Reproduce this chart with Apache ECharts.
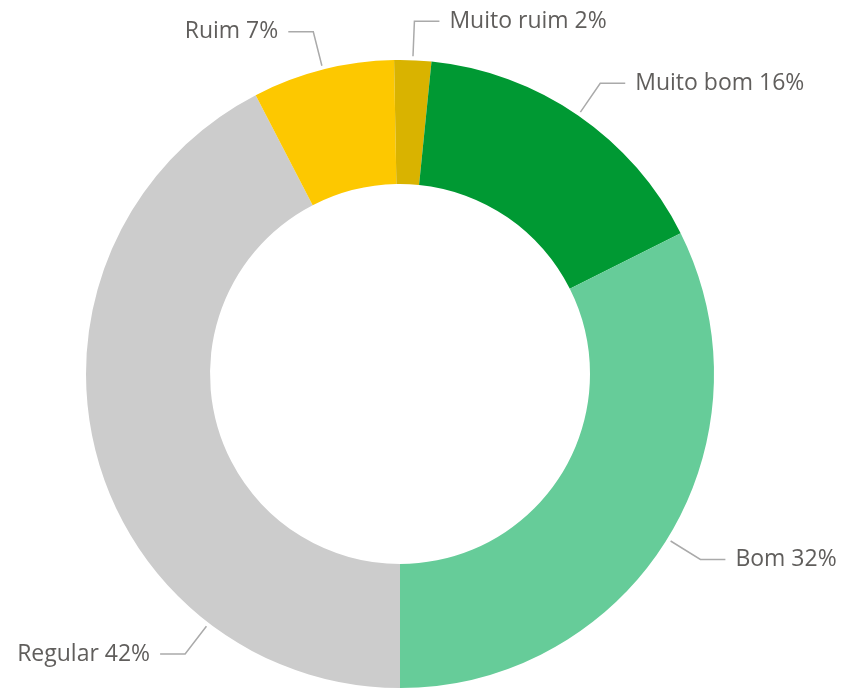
<!DOCTYPE html>
<html>
<head>
<meta charset="utf-8">
<script src="https://cdn.jsdelivr.net/npm/echarts@6/dist/echarts.min.js"></script>
<style>
  html, body { margin: 0; padding: 0; background: #fff; }
  #chart { width: 841px; height: 688px; }
</style>
</head>
<body>
<div id="chart"></div>
<script>
// slices, clockwise from the bottom
var names = ["Regular", "Ruim", "Muito ruim", "Muito bom", "Bom"];
var values = [42.4, 7.3, 1.9, 16.0, 32.4];
var colors = ["#cccccc", "#fdc800", "#d9b300", "#009933", "#66cc99"];

var cx = 400, cy = 374, rIn = 190, rOut = 314;
var total = values.reduce(function (a, b) { return a + b; }, 0);

// angle (deg, clockwise from top) where each label line leaves the ring
var anchorAngles = [];
var acc = 180;
values.forEach(function (v) {
  var span = v / total * 360;
  anchorAngles.push(acc + span / 2);
  acc += span;
});
anchorAngles[0] = 217.5; // Regular label sits low on the left

var myChart = echarts.init(document.getElementById("chart"));
myChart.setOption({
  animation: false,
  textStyle: { fontFamily: "Open Sans" },
  series: [
    {
      type: "pie",
      center: [cx, cy],
      radius: [rIn, rOut],
      startAngle: 270,
      clockwise: true,
      percentPrecision: 2,
      data: names.map(function (n, i) {
        return { name: n, value: values[i], itemStyle: { color: colors[i] } };
      }),
      label: {
        show: true,
        color: "#605e5c",
        fontSize: 23,
        overflow: "none",
        formatter: function (p) {
          return p.name + " " + Math.round(p.percent) + "%";
        },
      },
      labelLine: {
        show: true,
        lineStyle: { color: "#aaaaaa", width: 1.5 },
      },
      labelLayout: function (params) {
        var a = anchorAngles[params.dataIndex] * Math.PI / 180;
        var dx = Math.sin(a), dy = -Math.cos(a);
        var p0 = [cx + (rOut + 4) * dx, cy + (rOut + 4) * dy];
        var p1 = [cx + (rOut + 39) * dx, cy + (rOut + 39) * dy];
        var side = dx >= 0 ? 1 : -1;
        var p2 = [p1[0] + side * 25, p1[1]];
        return {
          x: p2[0] + side * 10,
          y: p2[1],
          width: 300,
          align: side > 0 ? "left" : "right",
          verticalAlign: "middle",
          labelLinePoints: [p0, p1, p2],
        };
      },
    },
  ],
});
</script>
</body>
</html>
